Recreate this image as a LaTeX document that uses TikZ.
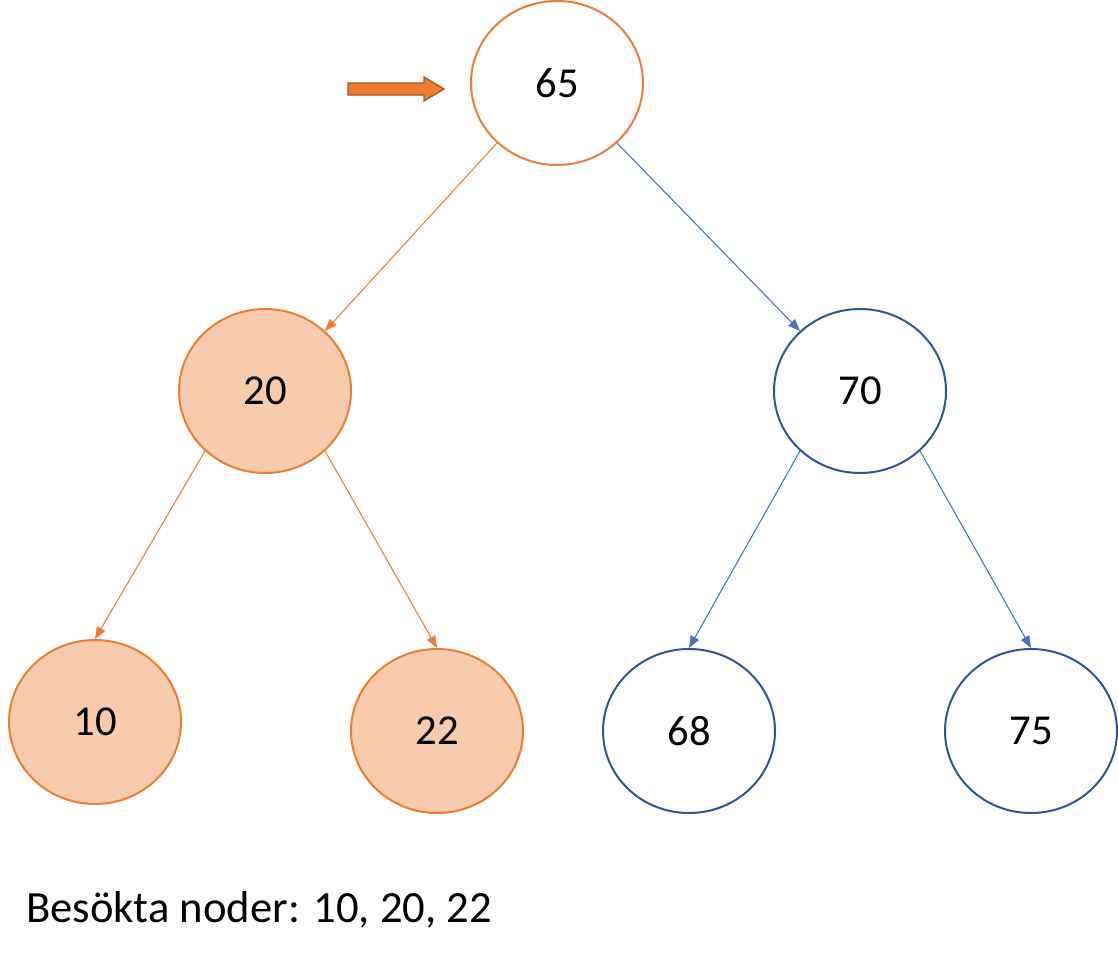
\documentclass[tikz,border=0pt]{standalone}
\usepackage{fontspec}
\setmainfont{Carlito}
\usetikzlibrary{shapes.geometric,shapes.arrows,arrows.meta}
\definecolor{org}{HTML}{ED7D31}
\definecolor{orgf}{HTML}{F8CBAD}
\definecolor{blu}{HTML}{4472C4}
\definecolor{blud}{HTML}{2F5597}
\begin{document}
\begin{tikzpicture}[x=0.75pt,y=-0.75pt,
  nd/.style={ellipse,minimum width=129pt,minimum height=123pt,inner sep=0pt,line width=1.5pt,font=\fontsize{32}{36}\selectfont},
  on/.style={nd,draw=org},
  of/.style={nd,draw=org,fill=orgf},
  bn/.style={nd,draw=blud},
  oe/.style={draw=org,line width=0.8pt,-{Triangle[length=9pt,width=7pt]}},
  be/.style={draw=blu,line width=0.8pt,-{Triangle[length=9pt,width=7pt]}}]
\useasboundingbox (0,0) rectangle (1118,960);
\node[on] (n65) at (557,83) {65};
\node[of] (n20) at (265,391) {20};
\node[bn] (n70) at (860,391) {70};
\node[of] (n10) at (95,722) {10};
\node[of] (n22) at (437,731) {22};
\node[bn] (n68) at (689,731) {68};
\node[bn] (n75) at (1031,731) {75};
\draw[oe] (n65.225) -- (n20.45);
\draw[be] (n65.-45) -- (n70.135);
\draw[oe] (n20.225) -- (n10.north);
\draw[oe] (n20.-45) -- (n22.north);
\draw[be] (n70.225) -- (n68.north);
\draw[be] (n70.-45) -- (n75.north);
\draw[fill=org,draw=org!70!black,line width=1pt]
  (348,83) -- (424,83) -- (424,77) -- (444,89) -- (424,101) -- (424,95) -- (348,95) -- cycle;
\node[anchor=west,inner sep=0pt,font=\fontsize{33.5}{38}\selectfont] (txt) at (26,910) {Besökta noder: 10, 20, 22};
\end{tikzpicture}
\end{document}
